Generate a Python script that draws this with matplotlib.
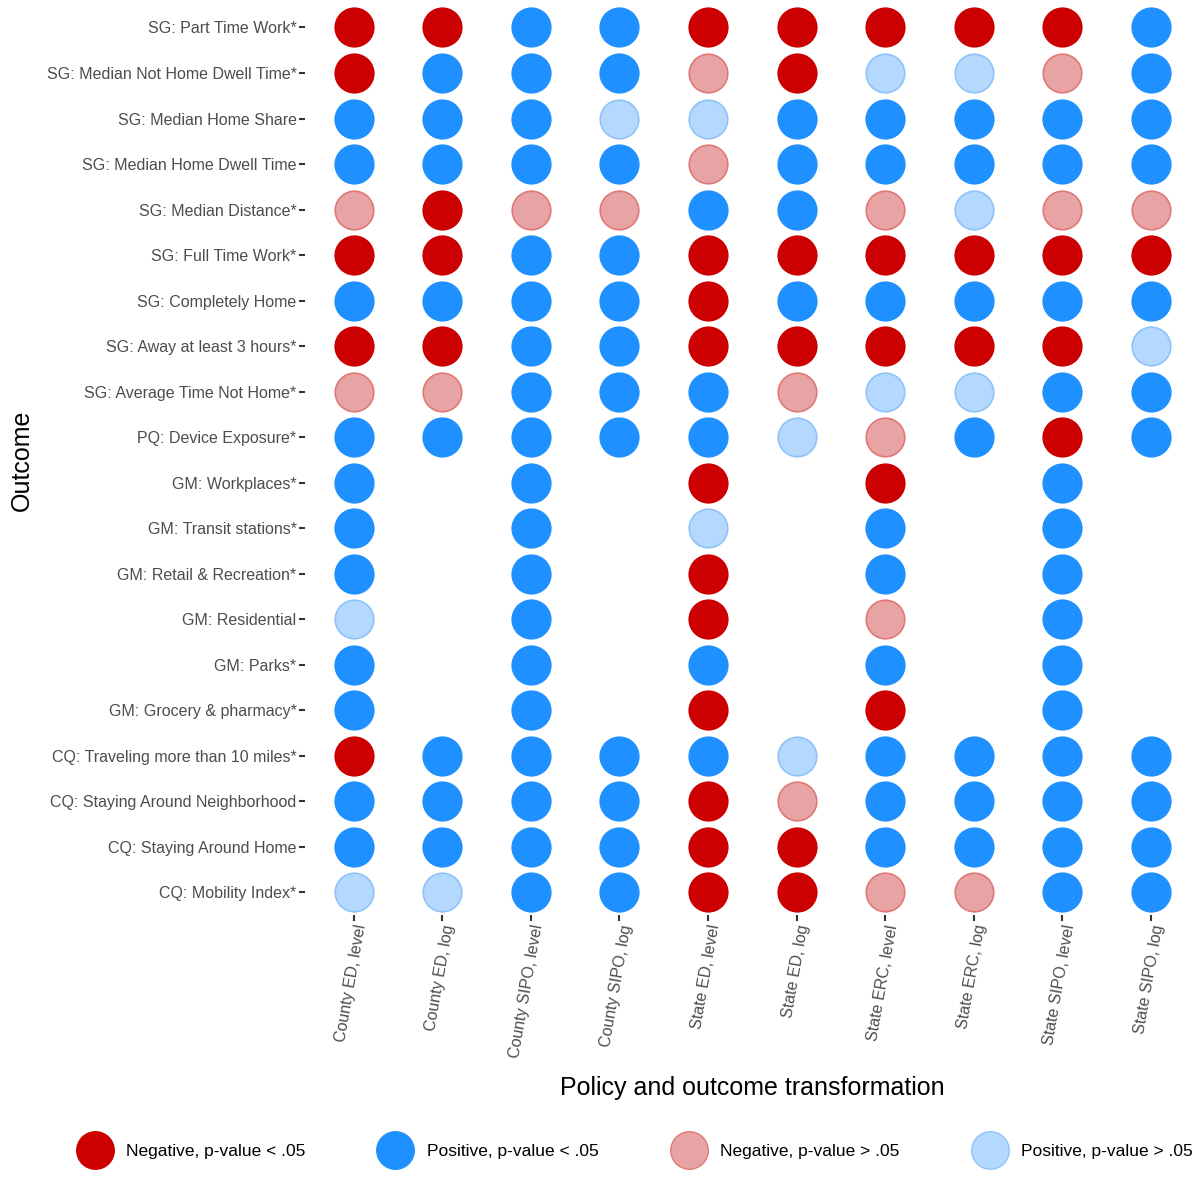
import matplotlib.pyplot as plt
from matplotlib.lines import Line2D

rows = ["SG: Part Time Work*", "SG: Median Not Home Dwell Time*", "SG: Median Home Share",
        "SG: Median Home Dwell Time", "SG: Median Distance*", "SG: Full Time Work*",
        "SG: Completely Home", "SG: Away at least 3 hours*", "SG: Average Time Not Home*",
        "PQ: Device Exposure*", "GM: Workplaces*", "GM: Transit stations*",
        "GM: Retail & Recreation*", "GM: Residential", "GM: Parks*", "GM: Grocery & pharmacy*",
        "CQ: Traveling more than 10 miles*", "CQ: Staying Around Neighborhood",
        "CQ: Staying Around Home", "CQ: Mobility Index*"]
cols = ["County ED, level", "County ED, log", "County SIPO, level", "County SIPO, log",
        "State ED, level", "State ED, log", "State ERC, level", "State ERC, log",
        "State SIPO, level", "State SIPO, log"]
# N neg sig, P pos sig, n neg nonsig, p pos nonsig, - missing
grid = ["NNPPNNNNNP",
        "NPPPnNppnP",
        "PPPppPPPPP",
        "PPPPnPPPPP",
        "nNnnPPnpnn",
        "NNPPNNNNNN",
        "PPPPNPPPPP",
        "NNPPNNNNNp",
        "nnPPPnppPP",
        "PPPPPpnPNP",
        "P-P-N-N-P-",
        "P-P-p-P-P-",
        "P-P-N-P-P-",
        "p-P-N-n-P-",
        "P-P-P-P-P-",
        "P-P-N-N-P-",
        "NPPPPpPPPP",
        "PPPPNnPPPP",
        "PPPPNNPPPP",
        "ppPPNNnnPP"]

styles = {"N": ("#CC0000", "#CC0000", "Negative, p-value < .05"),
          "P": ("#1E90FF", "#1E90FF", "Positive, p-value < .05"),
          "n": ("#E8A4A4", "#E07878", "Negative, p-value > .05"),
          "p": ("#B5D8FF", "#8EC3FA", "Positive, p-value > .05")}

plt.rcParams['font.family'] = ['Liberation Sans', 'DejaVu Sans']
fig = plt.figure(figsize=(11.98, 11.77), dpi=100)
ax = fig.add_axes([0.2545, 0.2225, 0.747, 0.7735])

for code, (fc, ec, lab) in styles.items():
    xs, ys = [], []
    for i, r in enumerate(grid):
        for j, c in enumerate(r):
            if c == code:
                xs.append(j + 1)
                ys.append(i + 1)
    ax.scatter(xs, ys, s=770, c=fc, edgecolors=ec, linewidths=1.2, zorder=3)

ax.set_xlim(0.45, 10.55)
ax.set_ylim(20.5, 0.5)
ax.set_yticks(range(1, 21))
ax.set_yticklabels(rows, fontsize=11.5, color="#4d4d4d")
ax.set_xticks(range(1, 11))
ax.set_xticklabels(cols, fontsize=11.5, color="#4d4d4d", rotation=80,
                   ha="right", rotation_mode="anchor")
ax.tick_params(length=4, width=1.5, color="#333333", pad=2)
for s in ax.spines.values():
    s.set_visible(False)
ax.set_xlabel("Policy and outcome transformation", fontsize=18, labelpad=12)
fig.text(22 / 1198, 1 - 460 / 1177, "Outcome", rotation=90, fontsize=18,
         ha="center", va="center")

handles = [Line2D([], [], ls="", marker="o", markersize=27, markerfacecolor=fc,
                  markeredgecolor=ec, label=lab) for fc, ec, lab in styles.values()]
fig.legend(handles=handles, loc="lower center", ncol=4, frameon=False,
           bbox_to_anchor=(0.53, 0.002), fontsize=12.5, columnspacing=4.2,
           handletextpad=0.8)
fig.savefig("out.png", dpi=100, facecolor="white")
